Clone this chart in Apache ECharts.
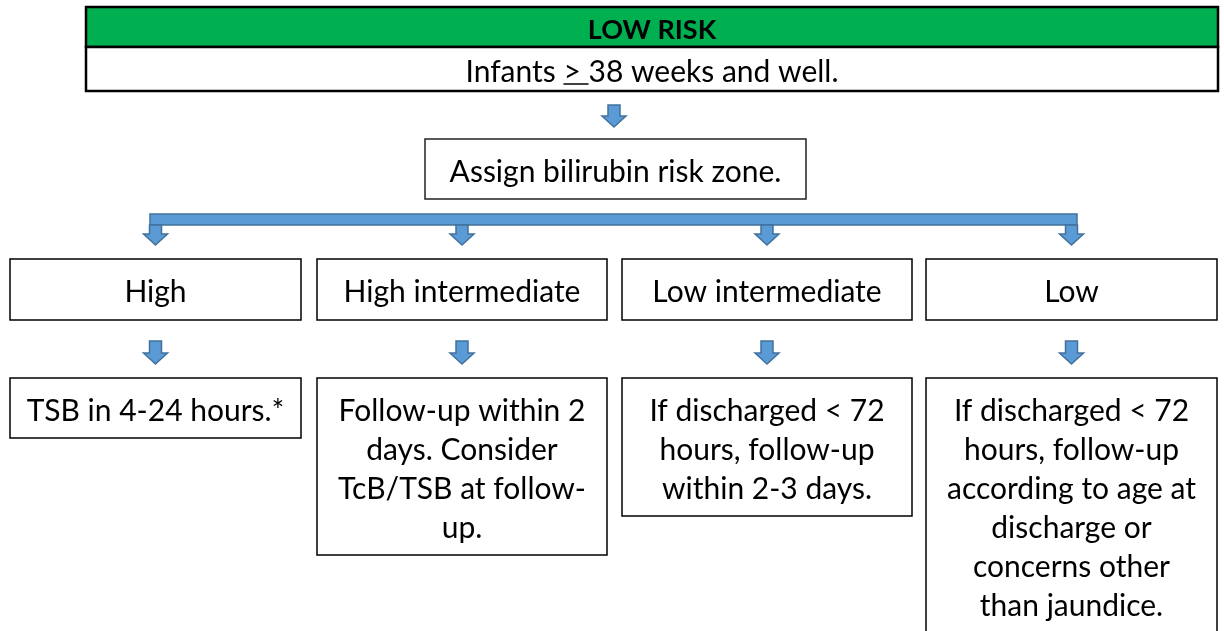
<!DOCTYPE html>
<html><head><meta charset="utf-8">
<script src="https://cdn.jsdelivr.net/npm/echarts@6/dist/echarts.min.js"></script>
<style>html,body{margin:0;padding:0;background:#fff}#c{width:1224px;height:631px}</style>
</head><body><div id="c"></div>
<script>
// ---- content ----
const headerTitle = 'LOW RISK';
const headerText = 'Infants > 38 weeks and well.';
const stepText = 'Assign bilirubin risk zone.';
const zones = ['High', 'High intermediate', 'Low intermediate', 'Low'];
const actions = [
  'TSB in 4-24 hours.*',
  'Follow-up within 2\ndays. Consider\nTcB/TSB at follow-\nup.',
  'If discharged < 72\nhours, follow-up\nwithin 2-3 days.',
  'If discharged < 72\nhours, follow-up\naccording to age at\ndischarge or\nconcerns other\nthan jaundice.'
];

// ---- layout (diagram coordinates) ----
const colX0 = [10, 317, 622, 926];
const colX1 = [301, 607, 912, 1217];
const actionBottoms = [438, 555, 516, 660];

const FONT = '"Lato", "Liberation Sans", sans-serif';
const BLUE = '#5B9BD5', BLUE_D = '#41719C', GREEN = '#00B050';

const ctx = document.createElement('canvas').getContext('2d');
function measure(str, font) { ctx.font = font; return ctx.measureText(str).width; }

// boxes: [x0, y0, x1, y1]
const boxes = [];
const boxInfo = [];
boxes.push([86, 7, 1218, 47]); boxInfo.push({fill: GREEN, stroke: '#000', lw: 2.5, text: headerTitle, bold: true, va: 'middle'});
boxes.push([86, 47, 1218, 91]); boxInfo.push({fill: '#fff', stroke: '#000', lw: 2.5, text: headerText, va: 'middle', underline: true});
boxes.push([425, 139, 806, 199]); boxInfo.push({fill: '#fff', stroke: '#222', lw: 1.5, text: stepText, va: 'middle'});
zones.forEach((z, i) => { boxes.push([colX0[i], 259, colX1[i], 320]); boxInfo.push({fill: '#fff', stroke: '#000', lw: 1.5, text: z, va: 'middle'}); });
actions.forEach((a, i) => { boxes.push([colX0[i], 378, colX1[i], actionBottoms[i]]); boxInfo.push({fill: '#fff', stroke: '#000', lw: 1.5, text: a, va: 'top', top: 392}); });

// arrows: [cx, yTop, yBottom]
const arrows = [[614, 105, 127]];
colX0.forEach((x0, i) => arrows.push([(x0 + colX1[i]) / 2, 225, 245]));
colX0.forEach((x0, i) => arrows.push([(x0 + colX1[i]) / 2, 341, 364]));
// connector bar: [x0, y0, x1, y1]
const bars = [[150, 214, 1077, 225]];

const chart = echarts.init(document.getElementById('c'), null, {renderer: 'canvas'});
chart.setOption({
  animation: false,
  grid: {left: 0, right: 0, top: 0, bottom: 0},
  xAxis: {type: 'value', min: 0, max: 1224, show: false},
  yAxis: {type: 'value', min: 0, max: 631, inverse: true, show: false},
  series: [
    {
      type: 'custom', clip: false, data: bars,
      renderItem(params, api) {
        const p0 = api.coord([api.value(0), api.value(1)]);
        const p1 = api.coord([api.value(2), api.value(3)]);
        return {type: 'rect', shape: {x: p0[0], y: p0[1], width: p1[0] - p0[0], height: p1[1] - p0[1]},
          style: {fill: BLUE, stroke: BLUE_D, lineWidth: 1.5}};
      }
    },
    {
      type: 'custom', clip: false, data: arrows,
      renderItem(params, api) {
        const c = api.coord([api.value(0), api.value(1)]);
        const b = api.coord([api.value(0), api.value(2)]);
        const cx = c[0], yt = c[1], yb = b[1];
        const hh = 11, sw = 6, hw = 12;
        return {type: 'polygon', shape: {points: [
          [cx - sw, yt], [cx + sw, yt], [cx + sw, yb - hh], [cx + hw, yb - hh], [cx, yb], [cx - hw, yb - hh], [cx - sw, yb - hh]
        ]}, style: {fill: BLUE, stroke: BLUE_D, lineWidth: 1.5}};
      }
    },
    {
      type: 'custom', clip: false, data: boxes,
      renderItem(params, api) {
        const info = boxInfo[params.dataIndex];
        const p0 = api.coord([api.value(0), api.value(1)]);
        const p1 = api.coord([api.value(2), api.value(3)]);
        const font = (info.bold ? 'bold 27px ' : '30px ') + FONT;
        const cx = (p0[0] + p1[0]) / 2;
        const ty = info.va === 'top' ? api.coord([0, info.top])[1] : (p0[1] + p1[1]) / 2 + 3;
        const children = [
          {type: 'rect', shape: {x: p0[0], y: p0[1], width: p1[0] - p0[0], height: p1[1] - p0[1]},
            style: {fill: info.fill, stroke: info.stroke, lineWidth: info.lw}},
          {type: 'text', style: {text: info.text, x: cx, y: ty, font: font, fill: '#000',
            align: 'center', verticalAlign: info.va, lineHeight: 39}}
        ];
        if (info.underline) {
          const full = measure(info.text, font);
          const pre = measure('Infants ', font);
          const seg = measure('> ', font);
          const x0 = cx - full / 2 + pre;
          children.push({type: 'line', shape: {x1: x0, y1: ty + 12, x2: x0 + seg, y2: ty + 12},
            style: {stroke: '#000', lineWidth: 1.5}});
        }
        return {type: 'group', children};
      }
    }
  ]
});
</script></body></html>
